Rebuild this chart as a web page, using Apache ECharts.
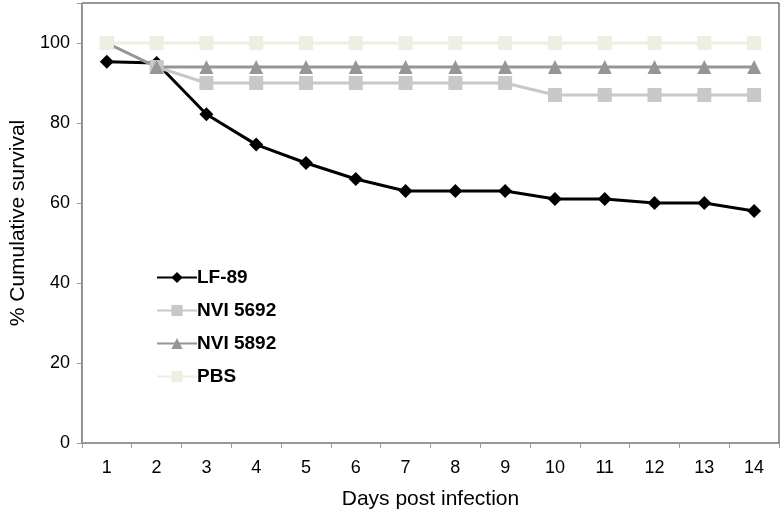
<!DOCTYPE html>
<html><head><meta charset="utf-8">
<script src="https://cdn.jsdelivr.net/npm/echarts@6/dist/echarts.min.js"></script>
<style>html,body{margin:0;padding:0;background:#fff}#c{width:784px;height:517px}</style>
</head><body><div id="c"></div>
<script>
const days = ['1','2','3','4','5','6','7','8','9','10','11','12','13','14'];
const lf89 = [95.3, 95, 82.2, 74.6, 70, 66, 63, 63, 63, 61, 61, 60, 60, 58];
const nvi5692 = [100, 94, 90, 90, 90, 90, 90, 90, 90, 87, 87, 87, 87, 87];
const nvi5892 = [100, 94, 94, 94, 94, 94, 94, 94, 94, 94, 94, 94, 94, 94];
const pbs = [100, 100, 100, 100, 100, 100, 100, 100, 100, 100, 100, 100, 100, 100];
const yTicks = {min: 0, max: 110, interval: 20};

const font = 'Liberation Sans, Arial, sans-serif';
const chart = echarts.init(document.getElementById('c'));
function s(name, data, color, symbol, size){
  return {name, type:'line', data, symbol, symbolSize:size, showSymbol:true,
    lineStyle:{color, width:3}, itemStyle:{color}, animation:false};
}
chart.setOption({
  animation:false,
  grid:{left:80, right:5, top:3, bottom:74, show:true, borderColor:'#333', borderWidth:1},
  legend:{orient:'vertical', left:151, top:263, itemGap:14, itemWidth:40, itemHeight:14,
    textStyle:{fontFamily:font, fontSize:19, fontWeight:'bold', color:'#000', padding:[0,0,0,-5]},
    data:['LF-89','NVI 5692','NVI 5892','PBS']},
  xAxis:{type:'category', data:days, boundaryGap:true,
    name:'Days post infection', nameLocation:'middle', nameGap:46,
    nameTextStyle:{fontFamily:font, fontSize:21, color:'#000'},
    axisLine:{lineStyle:{color:'#999', width:1}},
    axisTick:{show:true, length:5, lineStyle:{color:'#999'}},
    axisLabel:{fontFamily:font, fontSize:18, color:'#000', margin:16},
    splitLine:{show:false}},
  yAxis:{type:'value', min:yTicks.min, max:yTicks.max, interval:yTicks.interval,
    name:'% Cumulative survival', nameLocation:'middle', nameGap:52,
    nameTextStyle:{fontFamily:font, fontSize:21, color:'#000'},
    axisLine:{show:true, lineStyle:{color:'#999', width:1}},
    axisTick:{show:true, length:5, lineStyle:{color:'#999'}},
    axisLabel:{fontFamily:font, fontSize:18, color:'#000', margin:12,
      formatter: v => v > 100 ? '' : String(v)},
    splitLine:{show:false}},
  series:[
    s('LF-89', lf89, '#000000', 'diamond', 14),
    s('NVI 5692', nvi5692, '#c8c8c8', 'rect', 14),
    s('NVI 5892', nvi5892, '#969696', 'triangle', 14),
    s('PBS', pbs, '#eeeee2', 'rect', 14)
  ]
});
</script></body></html>
